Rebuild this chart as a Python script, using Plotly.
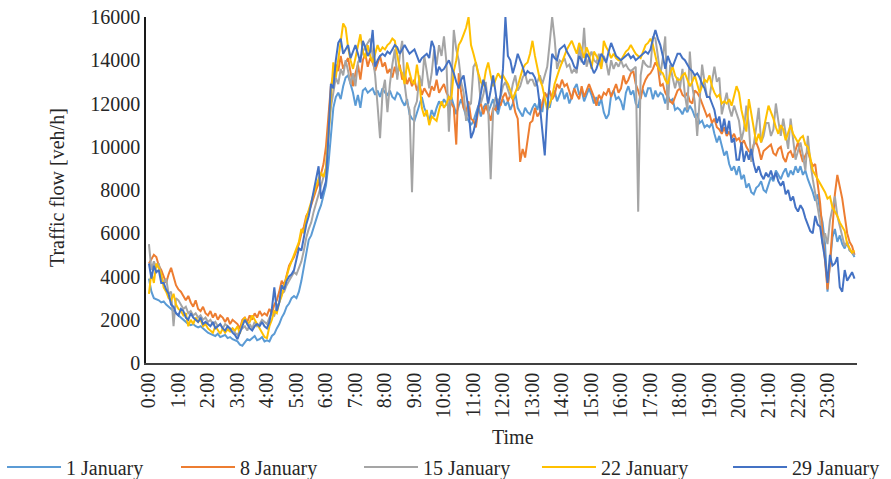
import plotly.graph_objects as go

# 5-minute time categories (288 per day)
times = [f"{m // 60}:{m % 60:02d}" for m in range(0, 24 * 60, 5)]
hour_ticks = [f"{h}:00" for h in range(24)]

series_names = ["1 January", "8 January", "15 January", "22 January", "29 January"]
series_colors = ["#5B9BD5", "#ED7D31", "#A5A5A5", "#FFC000", "#4472C4"]

jan01 = [
    3900, 3300, 3000, 2950, 2900, 2800, 2850, 2700, 2600, 2500, 2400, 2300,
    2200, 2100, 2000, 1900, 1800, 1750, 1800, 1700, 1650, 1700, 1600, 1500,
    1400, 1350, 1300, 1250, 1350, 1200, 1250, 1300, 1150, 1200, 1100, 1050,
    1000, 850, 800, 950, 1100, 1050, 1150, 1250, 1050, 1100, 1200, 1000,
    1050, 1000, 1250, 1350, 1600, 1800, 2100, 2300, 2600, 2750, 3000, 3100,
    3000, 3300, 3800, 4500, 5200, 5700, 5900, 6300, 6700, 7000, 7300, 7800,
    8200, 9200, 10500, 11800, 12300, 12500, 12200, 12800, 13200, 13300, 12900, 12500,
    11900, 12400, 11800, 12600, 12700, 12500, 12600, 12700, 12400, 12600, 12300, 12700,
    12500, 12400, 12600, 12300, 12200, 12500, 12400, 12100, 11900, 12200, 11500, 11300,
    11200, 11600, 11900, 12300, 11800, 11500, 11200, 11700, 11400, 11800, 12100, 11900,
    12200, 12000, 11800, 12300, 11900, 11500, 11900, 12200, 11800, 11400, 11200, 11000,
    11200, 11600, 11900, 11400, 11800, 12000, 11600, 11900, 12200, 11800, 11500, 12000,
    12200, 11900, 12100, 11700, 12000, 12500, 11800, 11600, 11400, 11800, 11600, 11500,
    11800, 12000, 11700, 12200, 11600, 12500, 12300, 11800, 12400, 12600, 12100, 12400,
    12700, 12200, 12500, 12000, 12300, 12700, 12900, 12400, 12600, 12100, 12400, 12700,
    12400, 12000, 12300, 11900, 12200, 11600, 11300, 11500, 12400, 12600, 12200, 12300,
    12100, 11700, 12500, 12800, 12400, 12600, 12000, 11800, 12500, 12600, 12300, 12700,
    12700, 12200, 12600, 12300, 12500, 12400, 12000, 12400, 12100, 12200, 11700, 11800,
    11700, 11500, 11800, 11600, 11900, 11700, 11400, 11500, 11100, 11200, 10900, 11000,
    10900, 11100, 10600, 10200, 10500, 10000, 9600, 9800, 9200, 8900, 9100, 8700,
    9100, 8500, 8700, 8100, 8300, 7900, 7800, 8100, 8200, 8400, 8000, 7900,
    8300, 8600, 8400, 8900, 8700, 8500, 8800, 9000, 8600, 8900, 8700, 9100,
    8800, 9100, 8700, 8900, 8500, 8200, 7900, 7500, 7800, 7000, 6500, 5500,
    3300, 4600, 5800, 6200, 5600, 5900, 5500, 5300, 5600, 5200, 5100, 4900,
]

jan08 = [
    4600, 4800, 5000, 4900, 4500, 4300, 4000, 3700, 4100, 4400, 4000, 3600,
    3400, 3300, 3100, 2900, 3100, 2800, 2600, 2900, 2500, 2400, 2600, 2300,
    2200, 2400, 2100, 2300, 2000, 2200, 2100, 1900, 2100, 1800, 2000, 1900,
    1800, 1600, 2000, 2100, 1900, 2200, 2000, 2300, 2100, 2400, 2200, 2300,
    2200, 2500, 2300, 2700, 2900, 3300, 3800, 3600, 4100, 4500, 4700, 4900,
    5200, 5500, 6000, 6300, 6800, 7000, 7300, 7700, 8000, 8300, 8700, 9200,
    10000, 11500, 12800, 13300, 13800, 13500, 14200, 13600, 13900, 14100, 13400, 12800,
    13400, 13800, 13100, 14000, 14300, 13700, 14100, 13900, 13500, 13900, 14200, 13700,
    13900, 13400, 13600, 13200, 13700, 13300, 13800, 13100, 13400, 12900, 13200, 12800,
    13100, 12600, 12900, 12400, 12700, 12500, 12300, 12800, 12600, 13100, 12500, 12700,
    12900, 12500, 12300, 12000, 11800, 10100, 13400, 12500, 11800, 11600, 12100, 11300,
    11200, 10900, 11800, 12000, 11500, 11900, 11600, 11200, 11800, 11700, 12100, 11900,
    12300, 12500, 12100, 12400, 12200, 11600, 11300, 9300, 9900, 9500, 10400, 11100,
    11200, 11800, 11400, 11600, 12000, 12500, 12300, 12600, 12200, 12400, 12900, 12700,
    13100, 12800, 12900, 12500, 12200, 12700, 12400, 12200, 12800, 12300, 12600, 12900,
    12600, 12300, 11900, 12400, 12200, 12500, 12400, 12700, 12300, 12600, 12900, 12500,
    12700, 13300, 12900, 13100, 13400, 13500, 12900, 12600, 12200, 12800, 13100, 13300,
    13400, 13600, 13900, 13700, 12800, 12900, 12500, 12300, 12100, 12000, 12300, 12600,
    12700, 12400, 12300, 12500, 12100, 12000, 12600, 12500, 12300, 12000, 11700, 11400,
    11500, 11100, 11300, 10900, 10800, 10600, 10900, 10500, 10700, 10400, 10600, 10300,
    10400, 10100, 10300, 10000, 9800, 9700, 10100, 10200, 9900, 9400, 9800, 9900,
    10000, 10100, 9700, 9600, 9900, 10000, 9500, 9300, 9700, 9800, 9500, 9900,
    10200, 9700, 9300, 9600, 9800, 9400, 9100, 9200, 8400, 7400, 6000, 4800,
    3400, 4600, 6200, 7800, 8700, 8200, 7600, 6800, 6000, 5600, 5400, 5000,
]

jan15 = [
    5500, 4300, 4700, 4400, 4600, 4000, 3700, 3900, 3200, 3300, 1700, 3000,
    2900, 2700, 2500, 2600, 2300, 2400, 2200, 2300, 2100, 2200, 2000, 2100,
    1900, 2000, 1800, 1900, 1700, 1800, 1600, 1800, 1700, 1500, 1600, 1400,
    1300, 1500, 1600, 1700, 1500, 1800, 1600, 1900, 1700, 1800, 2000, 1900,
    1800, 2100, 2300, 2200, 2600, 2800, 3200, 3300, 3600, 3800, 4000, 4200,
    4100, 4400, 4700, 5200, 5800, 6200, 6500, 7000, 7400, 7900, 8300, 8700,
    9000, 10500, 11800, 12500, 13200, 12900, 13600, 13300, 14000, 13500, 12900, 13400,
    12800, 13900, 14100, 14400, 14600, 14800, 15000, 14200, 13300, 11900, 10400, 12500,
    13100, 11600, 12900, 13800, 14500, 13100, 14200, 14900, 12900, 12000, 11700, 7900,
    11800, 12100, 13300, 12800, 14200, 13500, 12700, 13400, 14500, 13800, 14700, 14200,
    15100, 13900, 10700, 12900, 15400, 14500, 14000, 13000, 12500, 11200, 11900, 12000,
    13700, 13900, 13300, 12000, 12400, 13000, 11800, 8500, 11700, 12300, 12100, 12300,
    12800, 13000, 12600, 12300, 12900, 13300, 12600, 12800, 13200, 13400, 12900, 13100,
    13100, 12800, 13000, 13300, 12900, 13300, 13700, 14800, 16000, 15000, 13600, 14000,
    13900, 14100, 13700, 13800, 13400, 13600, 13400, 14700, 13900, 15500, 13700, 14100,
    14400, 14000, 13900, 14300, 13700, 14200, 13900, 13300, 14000, 13600, 13900, 13700,
    14000, 13700, 13800, 13600, 13500, 13600, 13700, 7000, 13300, 14000, 13800, 13700,
    13700, 15100, 15000, 14200, 13300, 14100, 15100, 11700, 13800, 13200, 12700, 13200,
    12700, 13600, 12400, 11700, 14400, 12800, 12100, 10500, 12200, 13800, 13000, 12300,
    12300, 13000, 13700, 13000, 13200, 11500, 12000, 12500, 11800, 11400, 11900, 11500,
    11200, 10300, 10800, 11900, 11000, 9300, 10000, 10900, 11800, 10200, 10500, 11100,
    11100, 10500, 10800, 12000, 11200, 10500, 11300, 10600, 9900, 11300, 10200, 9400,
    9800, 10200, 9600, 8900, 10500, 9300, 8500, 7900, 7200, 6500, 5500, 6000,
    5500, 6600, 7200, 7700, 6800, 6300, 5800, 5400, 5600, 5200, 5100, 5000,
]

jan22 = [
    3200, 4200, 3700, 4600, 4400, 4100, 3500, 3300, 3000, 2900, 3200, 2700,
    2500, 2400, 2200, 2300, 1700, 2000, 1800, 2100, 1900, 2000, 1700, 1800,
    1600, 1500, 1400, 1700, 1500, 1350, 1600, 1400, 1550, 1450, 1600, 1500,
    1700, 1350, 1900, 2100, 1800, 1900, 2200, 2000, 1800, 1600, 1400, 1200,
    1150, 1700, 2000, 2400, 2300, 2800, 3100, 3600, 4000, 4400, 4700, 5000,
    5300, 5600, 6200, 6000, 6700, 7100, 7400, 7800, 8200, 8500, 8800, 8600,
    9000, 10500, 12500, 13900, 13200, 14000, 15000, 15700, 15500, 14600, 14000, 13600,
    14100, 14600, 15200, 14400, 14100, 14700, 14200, 13900, 14300, 14700, 14400, 14600,
    14500, 14700, 14800, 15000, 14900, 14200, 13600, 13400, 12900, 13900, 13500, 13000,
    12900, 13800, 13000, 11800, 11400, 11700, 11000, 11400, 11300, 11200, 11700, 12100,
    11800, 12000, 12300, 12200, 13500, 14000, 14700, 14900, 15200, 15500, 16000, 14700,
    14300, 13800, 13400, 13000, 12800, 13500, 13900, 13300, 12800, 13100, 13400, 13200,
    13300, 13100, 12900, 12600, 12200, 12500, 12800, 13200, 13600, 13800, 13900, 14300,
    14900, 14200, 13600, 13100, 12800, 12200, 11700, 12000, 12300, 12900, 13300, 13600,
    13900, 14200, 14500, 14700, 14900, 14600, 14300, 14800, 14500, 14100, 14600, 14300,
    13600, 14400, 14200, 14000, 13600, 14900, 14600, 14400, 14100, 14300, 14100, 14000,
    14000, 14200, 14400, 14500, 14700, 14500, 14300, 14200, 14100, 14400, 14700, 14800,
    15000, 14700, 14200, 13700, 13500, 13400, 13100, 12900, 13400, 13700, 13300, 13100,
    13100, 13300, 13400, 13100, 12800, 13000, 13300, 12900, 12500, 12800, 13100, 13000,
    13300, 12800, 12500, 12300, 12400, 12000, 12100, 12000, 12200, 11900, 12400, 12800,
    12500, 11700, 11200, 10700, 12200, 11500, 10900, 10200, 10600, 10200, 10800, 11300,
    11900, 11600, 11300, 10900, 10600, 11000, 10800, 10300, 10700, 11000, 10600, 10400,
    10200, 10400, 10500, 10100, 10000, 9500, 8900, 8700, 8500, 8300, 8100, 7900,
    7600, 7700, 7200, 7000, 6800, 6500, 6300, 6100, 5500, 5300, 5100, 5200,
]

jan29 = [
    4600, 3900, 4500, 4200, 4300, 3700, 3700, 3400, 3200, 2700, 2600, 2300,
    2200, 2500, 2400, 2100, 2000, 2300, 2100, 2000, 1900, 2100, 1800, 1900,
    1800, 1700, 1900, 1600, 1700, 1800, 1600, 1500, 1700, 1600, 1400, 1300,
    1100, 1400, 1700, 2000, 1800, 1600, 1500, 1700, 1800, 1700, 1900, 1700,
    1600, 1900, 2500, 3500, 2400, 2800, 3600, 3400, 3800, 4000, 4100, 4300,
    4800, 5300, 5200, 5800, 6400, 6800, 7400, 8000, 8600, 9100, 7600, 8000,
    8400, 10500, 12900, 12700, 14000, 14800, 15000, 14300, 14500, 14700, 14100, 14400,
    14700, 14300, 13900, 14900, 14600, 14200, 14400, 15400, 13700, 14000, 14200, 14300,
    14200, 14400, 14300, 14500, 14700, 14600, 14300, 14500, 14700, 14500, 14300, 14400,
    14500, 14200, 13900, 14100, 14200, 14300, 14100, 14900, 14600, 13300, 13700, 13500,
    13600, 13800, 14000, 13700, 13400, 13000, 12700, 13100, 13300, 12500, 11700, 10400,
    10700, 11200, 11900, 12600, 13100, 12700, 12000, 12600, 13300, 12500, 11700, 12400,
    13600, 16000, 14200, 14000, 13400, 13800, 14300, 14000, 13700, 13300, 13500, 13400,
    13400, 13200, 12800, 11900, 10800, 9600, 11700, 13200, 14300, 14100, 14000, 14500,
    14600, 14700, 14400, 14200, 14000, 13700, 13600, 14200, 14000, 13800, 14300, 14100,
    13700, 13400, 13600, 14000, 14300, 14100, 13900, 14400, 14800, 14500, 14200, 14100,
    14000, 14100, 14200, 14300, 14100, 14200, 14000, 14100, 14200, 14300, 14400, 14300,
    14500, 15000, 15400, 15000, 14700, 14200, 13600, 14200, 13900, 13700, 14000, 14300,
    14300, 14100, 14000, 13800, 13600, 13500, 13300, 13400, 13200, 12900, 12700, 12300,
    12300, 12000, 11700, 11100, 11400, 10700, 11300, 10600, 11200, 10200, 10400, 9400,
    9400, 10200, 9300, 9800, 9400, 9900, 9200, 8800, 9100, 8700, 8500, 8800,
    8600, 8900, 8500, 8800, 8400, 8200, 8400, 7800, 8000, 7500, 7700, 7200,
    7000, 7300, 7100, 6700, 6400, 6100, 6000, 6800, 6400, 6300, 5500, 4800,
    3700, 5000, 4500, 4600, 4900, 3500, 3300, 4300, 3800, 4000, 4200, 3900,
]

y_ticks = [0, 2000, 4000, 6000, 8000, 10000, 12000, 14000, 16000]
y_tick_text = ["0", "2000", "4000", "6000", "8000", "10000", "12000", "14000", "16000"]

FONT = "Liberation Serif, Times New Roman, serif"
TXT = "#262626"

# one single-item legend per series, laid out in a row below the chart
legend_ids = ["legend", "legend2", "legend3", "legend4", "legend5"]
legend_x = [-0.2025, 0.0422, 0.2996, 0.5499, 0.8186]

fig = go.Figure()
for name, color, vals, lid in zip(series_names, series_colors,
                                  [jan01, jan08, jan15, jan22, jan29], legend_ids):
    fig.add_trace(go.Scatter(
        x=times, y=vals, mode="lines", name=name, legend=lid,
        line=dict(color=color, width=2),
    ))

layout_legends = {}
for lid, lx in zip(legend_ids, legend_x):
    layout_legends[lid] = dict(
        orientation="h", x=lx, xanchor="left", y=-0.3006, yanchor="middle",
        font=dict(family=FONT, size=20, color=TXT),
        itemwidth=54, bgcolor="rgba(0,0,0,0)",
    )

fig.update_layout(
    width=891, height=479,
    margin=dict(l=146, r=34, t=17, b=116, autoexpand=False),
    paper_bgcolor="white", plot_bgcolor="white",
    font=dict(family=FONT, size=20, color=TXT),
    showlegend=True,
    annotations=[
        dict(text="Traffic flow [veh/h]", textangle=-90, x=-0.125, y=0.506,
             xref="paper", yref="paper", xanchor="center", yanchor="middle",
             showarrow=False, font=dict(family=FONT, size=20, color=TXT)),
        dict(text="Time", x=0.516, y=-0.214, xref="paper", yref="paper",
             xanchor="center", yanchor="middle", showarrow=False,
             font=dict(family=FONT, size=20, color=TXT)),
    ],
    **layout_legends,
)
fig.update_xaxes(
    type="category", range=[-1.2, 288], tickmode="array",
    tickvals=hour_ticks, ticktext=hour_ticks, tickangle=-90,
    showgrid=False, zeroline=False, showline=True, linecolor="#404040", linewidth=1.5,
    ticks="", tickfont=dict(family=FONT, size=20, color=TXT),
)
fig.update_yaxes(
    range=[0, 16000], tickmode="array", tickvals=y_ticks, ticktext=y_tick_text,
    showgrid=False, zeroline=False, showline=True, linecolor="#1a1a1a", linewidth=1.5,
    ticks="", tickfont=dict(family=FONT, size=20, color=TXT),
)

fig.write_html("out.html")
